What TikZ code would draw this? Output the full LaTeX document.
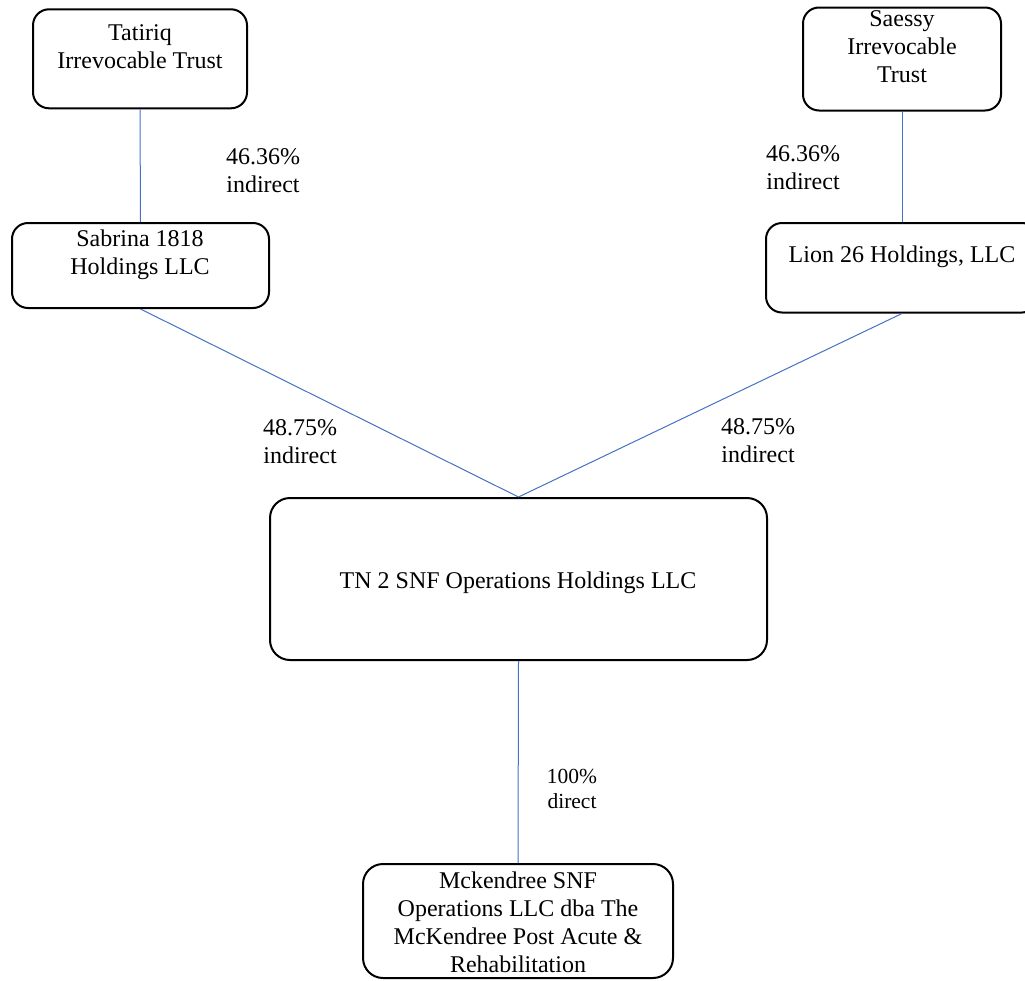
\documentclass[tikz,border=0pt]{standalone}
\usepackage{fontspec}
\setmainfont{Liberation Serif}
\definecolor{linkblue}{RGB}{68,114,196}
\tikzset{
  orgbox/.style={draw=black, line width=2pt, rounded corners=#1, rectangle, inner sep=0pt, fill=none},
  orgbox/.default=16pt,
  boxtext/.style={anchor=north, inner sep=0pt, align=center, font=\fontsize{24}{28}\selectfont},
  pcttext/.style={anchor=north, inner sep=0pt, align=center, font=\fontsize{24}{28}\selectfont},
  smalltext/.style={anchor=north, inner sep=0pt, align=center, font=\fontsize{21.5}{25}\selectfont},
  link/.style={draw=linkblue, line width=1pt}
}
\begin{document}
\begin{tikzpicture}[x=1pt, y=-1pt]
\useasboundingbox (0,0) rectangle (1025,980);
% boxes
\node[orgbox, minimum width=214pt, minimum height=99pt] (tat) at (140,58.8) {};
\node[orgbox, minimum width=198pt, minimum height=103pt] (sae) at (902,59) {};
\node[orgbox, minimum width=257pt, minimum height=85pt] (sab) at (140.5,265.5) {};
\node[orgbox, minimum width=272pt, minimum height=89.5pt] (lion) at (902,267.75) {};
\node[orgbox=20pt, minimum width=497pt, minimum height=162pt] (tn) at (518.5,579) {};
\node[orgbox=20pt, minimum width=310pt, minimum height=114pt] (mck) at (518,921) {};
% box texts
\node[boxtext] (tattext) at (140,20.4) {\strut Tatiriq\\\strut Irrevocable Trust};
\node[boxtext] (saetext) at (902,6.4) {\strut Saessy\\\strut Irrevocable\\\strut Trust};
\node[boxtext] (sabtext) at (140,226.4) {\strut Sabrina 1818\\\strut Holdings LLC};
\node[boxtext] (liontext) at (902,242.4) {\strut Lion 26 Holdings, LLC};
\node[boxtext] (tntext) at (518,568.4) {\strut TN 2 SNF Operations Holdings LLC};
\node[boxtext] (mcktext) at (518,868.4) {\strut Mckendree SNF\\\strut Operations LLC dba The\\\strut McKendree Post Acute \&\\\strut Rehabilitation};
% connectors
\draw[link] (tat.south) -- (sab.north);
\draw[link] (sae.south) -- (lion.north);
\draw[link] (sab.south) -- (tn.north);
\draw[link] (lion.south) -- (tn.north);
\draw[link] (tn.south) -- (mck.north);
% percentage labels
\node[pcttext] (l1) at (263,144.4) {\strut 46.36\%\\\strut indirect};
\node[pcttext] (l2) at (803,141.4) {\strut 46.36\%\\\strut indirect};
\node[pcttext] (l3) at (300,415.4) {\strut 48.75\%\\\strut indirect};
\node[pcttext] (l4) at (758,414.4) {\strut 48.75\%\\\strut indirect};
\node[smalltext] (l5) at (572,765.5) {\strut 100\%\\\strut direct};
\end{tikzpicture}
\end{document}
